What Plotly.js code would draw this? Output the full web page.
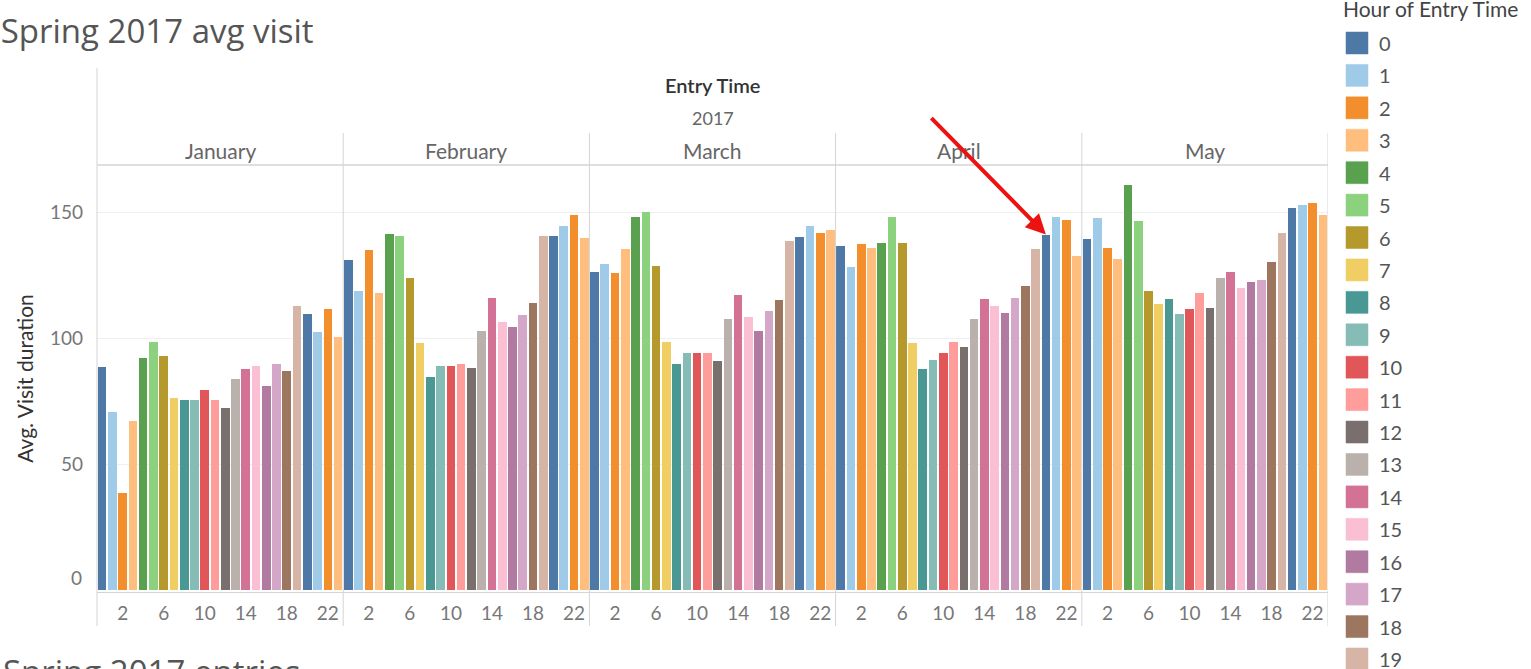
<!DOCTYPE html>
<html>
<head>
<meta charset="utf-8">
<script src="https://cdn.plot.ly/plotly-3.0.1.min.js"></script>
<style>html,body{margin:0;padding:0;background:#fff;}#chart{width:1531px;height:669px;}</style>
</head>
<body>
<div id="chart"></div>
<script>
// ---- data ----
const months = ["January", "February", "March", "April", "May"];
const hours = [0,1,2,3,4,5,6,7,8,9,10,11,12,13,14,15,16,17,18,19,20,21,22,23];
const tickHours = [2, 6, 10, 14, 18, 22];
const janValues = [88.6,71.0,38.8,67.3,92.4,98.7,93.1,76.3,75.6,75.6,79.6,75.6,72.3,83.9,87.9,89.0,81.3,89.9,87.2,113.0,109.7,102.6,111.6,100.7];
const febValues = [131.0,118.8,135.0,118.2,141.5,140.7,124.0,98.2,84.6,89.1,89.1,89.8,88.4,103.2,116.3,106.4,104.7,109.2,114.2,140.7,140.7,144.5,149.0,140.0];
const marValues = [126.5,129.7,125.9,135.6,148.3,150.3,129.0,98.7,89.8,94.4,94.4,94.4,91.1,107.7,117.4,108.4,103.1,110.9,115.4,138.7,140.5,144.5,142.0,143.2];
const aprValues = [136.8,128.4,137.4,136.0,138.0,148.3,138.0,98.1,87.9,91.6,94.4,98.7,96.7,107.7,115.6,112.9,110.2,116.2,120.7,135.5,141.3,148.3,147.1,132.9];
const mayValues = [139.4,147.7,136.0,131.5,160.9,146.6,118.7,113.6,115.6,109.7,111.6,118.1,112.2,123.9,126.5,120.0,122.5,123.2,130.4,142.0,151.7,152.9,153.7,149.0];
const monthValues = [janValues, febValues, marValues, aprValues, mayValues];
const yTicks = [0, 50, 100, 150];
const hourColors = ["#4E79A7","#A0CBE8","#F28E2B","#FFBE7D","#59A14F","#8CD17D","#B6992D","#F1CE63","#499894","#86BCB6","#E15759","#FF9D9A","#79706E","#BAB0AC","#D37295","#FABFD2","#B07AA1","#D4A6C8","#9D7660","#D7B5A6","#4E79A7","#A0CBE8","#F28E2B","#FFBE7D"];
const highlightMonth = 3, highlightHour = 20;

// ---- layout geometry (pixels) ----
const W = 1531, H = 669;
const L = 97, R = 1328, T = 165, B = 592;
const pw = R - L, ph = B - T;
const px2x = p => (p - L) / pw;
const py2y = p => (B - p) / ph;
const FONT = "Lato, 'Open Sans', sans-serif";
const TFONT = "'Open Sans', Lato, sans-serif";
const perMonth = hours.length;

const traces = hours.map((h, i) => ({
  type: "bar",
  name: String(h),
  x: months.map((m, mi) => mi * perMonth + h),
  y: months.map((m, mi) => monthValues[mi][i]),
  marker: { color: hourColors[i] },
  width: 0.84,
  showlegend: false,
  hovertemplate: "%{customdata}<br>Hour " + h + ": %{y}<extra></extra>",
  customdata: months
}));

const tickvals = [], ticktext = [];
months.forEach((m, mi) => tickHours.forEach(h => { tickvals.push(mi * perMonth + h); ticktext.push(String(h)); }));

const lineC = "#d4d4d4";
const shapes = [];
shapes.push({ type: "line", xref: "paper", yref: "paper", x0: 0, x1: 0, y0: py2y(626), y1: py2y(68), line: { color: lineC, width: 1 } });
for (let mi = 1; mi <= months.length; mi++) {
  const xv = mi * perMonth - 0.5;
  shapes.push({ type: "line", xref: "x", yref: "paper", x0: xv, x1: xv, y0: py2y(626), y1: py2y(133), line: { color: lineC, width: 1 } });
}
shapes.push({ type: "line", xref: "paper", yref: "paper", x0: 0, x1: 1, y0: 1, y1: 1, line: { color: lineC, width: 1.5 } });

const annotations = [];
annotations.push({ xref: "paper", yref: "paper", x: 0.5, y: py2y(85), text: "Entry Time", showarrow: false, font: { family: FONT, size: 20, color: "#333", weight: 600 }, yanchor: "middle" });
annotations.push({ xref: "paper", yref: "paper", x: 0.5, y: py2y(118), text: "2017", showarrow: false, font: { family: FONT, size: 18, color: "#666" }, yanchor: "middle" });
months.forEach((m, mi) => annotations.push({ xref: "x", yref: "paper", x: mi * perMonth + (perMonth - 1) / 2, y: py2y(151), text: m, showarrow: false, font: { family: FONT, size: 21, color: "#666" }, yanchor: "middle" }));

// bottom y tick label (Tableau lifts it to sit inside the pane)
annotations.push({ xref: "paper", yref: "y", x: px2x(84), y: yTicks[0], yshift: 13, text: String(yTicks[0]), showarrow: false, xanchor: "right", yanchor: "middle", font: { family: FONT, size: 19, color: "#777" } });

// legend (manual, tableau style)
annotations.push({ xref: "paper", yref: "paper", x: px2x(1341), y: py2y(8), text: "Hour of Entry Time", showarrow: false, xanchor: "left", yanchor: "middle", font: { family: FONT, size: 21, color: "#444" } });
hours.forEach((h, i) => {
  const cy = 43 + 32.42 * i;
  if (cy > H) return;
  shapes.push({ type: "rect", xref: "paper", yref: "paper", x0: px2x(1346), x1: px2x(1368), y0: py2y(cy + 11), y1: py2y(cy - 11), fillcolor: hourColors[i], line: { color: hourColors[i], width: 0.5 } });
  annotations.push({ xref: "paper", yref: "paper", x: px2x(1377), y: py2y(cy), text: String(h), showarrow: false, xanchor: "left", yanchor: "middle", font: { family: FONT, size: 20, color: "#555" } });
});

// red arrow
annotations.push({ xref: "x", yref: "y", x: highlightMonth * perMonth + highlightHour, y: monthValues[highlightMonth][highlightHour],
  ax: -116, ay: -118, text: "", showarrow: true, arrowcolor: "#ee1111", arrowwidth: 4, arrowhead: 2, arrowsize: 1 });

// next chart title peeking at bottom
annotations.push({ xref: "paper", yref: "paper", x: px2x(1), y: py2y(647), text: "Spring 2017 entries", showarrow: false, xanchor: "left", yanchor: "top", font: { family: TFONT, size: 33, color: "#555" } });

const layout = {
  width: W, height: H,
  margin: { l: L, r: W - R, t: T, b: H - B, pad: 0 },
  paper_bgcolor: "#fff", plot_bgcolor: "#fff",
  barmode: "overlay",
  bargap: 0,
  showlegend: false,
  title: { text: "Spring 2017 avg visit", x: 0.0005, xref: "container", xanchor: "left", y: 1 - 31 / H, yref: "container", yanchor: "middle", font: { family: TFONT, size: 33, color: "#555" } },
  xaxis: {
    range: [-0.5, months.length * perMonth - 0.5],
    tickvals: tickvals, ticktext: ticktext, ticks: "", showgrid: false, zeroline: false,
    showline: true, linecolor: lineC, linewidth: 1,
    ticklabelstandoff: 4,
    tickfont: { family: FONT, size: 19, color: "#777" }, fixedrange: true
  },
  yaxis: {
    range: [-0.6, 168.9],
    tickvals: yTicks.filter(v => v > yTicks[0]), ticks: "", showgrid: true, gridcolor: "#efefef", gridwidth: 1, zeroline: false, showline: false,
    tickfont: { family: FONT, size: 19, color: "#777" },
    ticklabelstandoff: 13,
    title: { text: "Avg. Visit duration", font: { family: FONT, size: 21, color: "#333" }, standoff: 10 },
    fixedrange: true
  },
  shapes: shapes,
  annotations: annotations
};

Plotly.newPlot("chart", traces, layout, { displayModeBar: false, responsive: false });
</script>
</body>
</html>
